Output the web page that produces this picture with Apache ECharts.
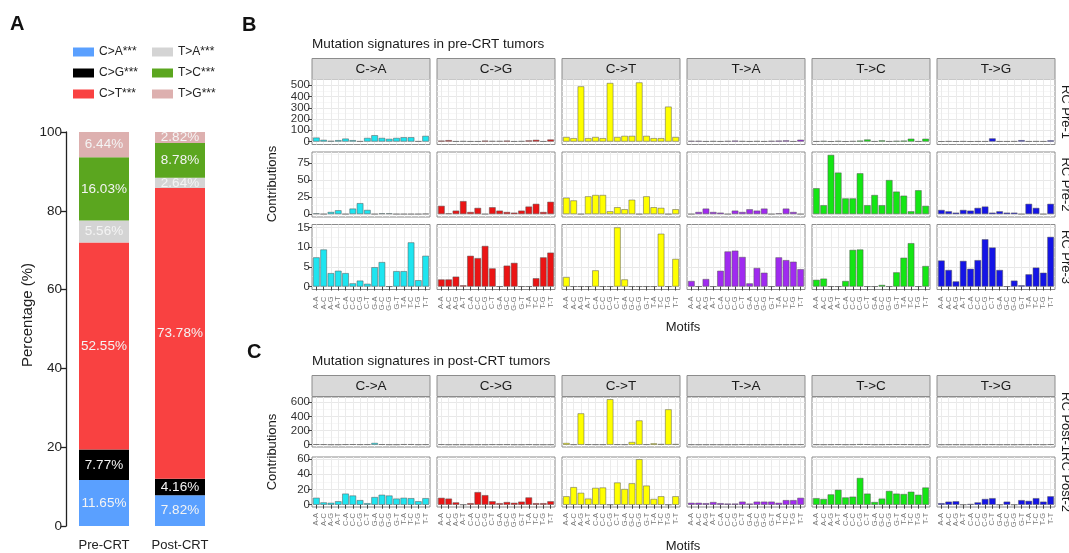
<!DOCTYPE html>
<html><head><meta charset="utf-8">
<script src="https://cdn.jsdelivr.net/npm/echarts@6/dist/echarts.min.js"></script>
<style>html,body{margin:0;padding:0;background:#fff}#c{width:1069px;height:553px}</style>
</head><body><div id="c"></div><script>
// ---------- Panel A data ----------
const groups = ['Pre-CRT', 'Post-CRT'];
const subTypes = ['C>A***', 'C>G***', 'C>T***', 'T>A***', 'T>C***', 'T>G***'];
const pctPre  = [11.65, 7.77, 52.55, 5.56, 16.03, 6.44];
const pctPost = [7.82, 4.16, 73.78, 2.64, 8.78, 2.82];
const pctTicks = [0, 20, 40, 60, 80, 100];
const typeColors = ['#5AA0FF', '#000000', '#F94141', '#D4D4D4', '#5BA61F', '#DDB0AF'];

// ---------- Panels B & C data ----------
const facetNames = ['C->A', 'C->G', 'C->T', 'T->A', 'T->C', 'T->G'];
const facetColors = ['#1EE5F0', '#EB1414', '#FFFF00', '#A02AF0', '#14E614', '#1414E6'];
const motifs = ['A-A','A-C','A-G','A-T','C-A','C-C','C-G','C-T','G-A','G-C','G-G','G-T','T-A','T-C','T-G','T-T'];
const motifPos = [1,2,3,4,5,6,7,8,9,10,11,12,13,14,15,16];

// 96 contributions per sample: C->A, C->G, C->T, T->A, T->C, T->G (16 each)
const rcPre1 = [
  35,15,6,12,26,12,3,32,56,32,24,32,38,38,3,50,
  8,12,2,4,2,2,8,5,5,8,2,4,10,15,2,18,
  40,30,490,30,40,30,520,40,50,50,525,50,30,30,310,40,
  6,6,2,4,2,5,8,4,2,4,2,6,8,10,2,16,
  2,5,1,5,1,4,8,18,2,10,2,6,8,25,2,25,
  1,3,1,3,1,2,2,28,2,2,3,12,2,3,2,10
];
const rcPre2 = [
  1,0,3,5.5,0,8,16,6,0,1,1,0,0,0,0,0.5,
  12,1,5,19,3,9,0,10,5,3,2,5,11,15,3,18,
  24,20,0,26,28,28,4,10,7,21,0,26,10,9,0,7,
  0,3,8,3,2,0,5,3,7,5,8,0,1,8,3,0,
  38,13,87,61,23,23,60,13,28,13,50,33,27,4,35,12,
  6,4,2,6,5,9,11,2,4,2,2,0,15,9,0,15
];
const rcPre3 = [
  7.4,9.4,3.4,4.0,3.4,0.8,1.5,0.7,4.9,6.2,0,3.9,3.9,11.2,1.6,7.8,
  1.8,1.8,2.5,0.3,7.8,7.2,10.3,4.6,0,5.3,6.0,0,0,2.1,7.4,8.6,
  2.4,0,0,0,4.1,0,0,15,1.8,0,0,0,0,13.4,0,7.0,
  1.4,0,1.9,0,4.0,8.9,9.1,7.5,0.8,4.7,3.5,0,7.4,6.7,6.3,4.4,
  1.7,2.0,0,0,1.4,9.3,9.4,0,0,0.4,0,3.6,7.3,11,0,5.2,
  6.6,4.2,1.3,6.5,4.5,6.7,12,9.9,4.2,0,1.5,0.3,3.1,4.8,3.5,12.6
];
const rcPost1 = [
  6,5,1,1,5,6,4,5,25,6,2,2,7,7,2,4,
  5,1,1,2,1,2,1,4,3,4,1,1,4,1,1,1,
  24,3,443,5,3,3,643,5,3,38,343,5,19,10,500,10,
  2,1,1,2,1,1,1,5,1,2,1,2,3,2,3,4,
  3,2,3,5,2,3,8,6,2,3,5,6,5,4,2,3,
  1,2,2,1,1,2,3,4,1,2,1,3,2,4,2,5
];
const rcPost2 = [
  9,3,2.5,4.5,14.5,12,6,2,10,13,12,8,9,8.5,4.5,8.5,
  9,8,3,0,2,16.5,12.5,4.5,2,3.5,2.5,4,9.5,2,2,4.5,
  11,23,15.5,8,22,22.5,0,29,20.5,28,59.5,25,7.5,11,0,11,
  2.5,2.5,2,3.5,2,1.5,1.5,4,1.5,4,4,4,2.5,6,6,9,
  8.5,7.5,13.5,19.5,9.5,10.5,35,14.5,3.5,8,18,14.5,14,17,13,22.5,
  2,4,4.5,0,1,3,7.5,8.5,0,4,0,6,5,8.5,4,11
];
const ticksPre1 = [0,100,200,300,400,500];
const ticksPre2 = [0,25,50,75];
const ticksPre3 = [0,5,10,15];
const ticksPost1 = [0,200,400,600];
const ticksPost2 = [0,20,40,60];
const preRowNames = ['RC Pre-1', 'RC Pre-2', 'RC Pre-3'];
const postRowNames = ['RC Post-1', 'RC Post-2'];

// ---------- layout ----------
const FF = '"Liberation Sans", Arial, sans-serif';
const colLeft = [312, 437, 562, 687, 812, 937];
const PW = 118;
const blocks = [
  {samples: [rcPre1, rcPre2, rcPre3], names: preRowNames, ticks: [ticksPre1, ticksPre2, ticksPre3],
   tops: [79.5, 152, 224.5], h: 65, stripTop: 58.5, title: 'Mutation signatures in pre-CRT tumors',
   titleY: 44, contribY: 184, motifsY: 327, labelMargin: 7},
  {samples: [rcPost1, rcPost2], names: postRowNames, ticks: [ticksPost1, ticksPost2],
   tops: [397, 457], h: 50, stripTop: 375.5, title: 'Mutation signatures in post-CRT tumors',
   titleY: 361, contribY: 452, motifsY: 546, labelMargin: 6}
];

const grids = [], xAxes = [], yAxes = [], series = [], graphics = [];
function txt(x, y, text, o) {
  o = o || {};
  return {type: 'text', x: x, y: y, rotation: o.rot || 0, silent: true, z: 10,
    style: {text: text, fill: o.color || '#1a1a1a', fontSize: o.size || 12, fontWeight: o.weight || 'normal',
      fontFamily: FF, align: o.align || 'center', verticalAlign: o.va || 'middle'}};
}
const barW = 0.9 * PW / 16.2;
const motifOdd = motifPos.filter(function (v, i) { return i % 2 === 0; });
const motifEven = motifPos.filter(function (v, i) { return i % 2 === 1; });
const motifFmt = function (v) { return motifs[Math.round(v) - 1]; };

blocks.forEach(function (b) {
  graphics.push(txt(312, b.titleY, b.title, {align: 'left', size: 13.5}));
  graphics.push(txt(272, b.contribY, 'Contributions', {rot: Math.PI / 2, size: 13}));
  graphics.push(txt(683, b.motifsY, 'Motifs', {size: 13}));
  for (let c = 0; c < 6; c++) {
    graphics.push({type: 'rect', silent: true, shape: {x: colLeft[c], y: b.stripTop, width: PW, height: 21},
      style: {fill: '#D9D9D9', stroke: '#8c8c8c', lineWidth: 1}});
    graphics.push(txt(colLeft[c] + PW / 2, b.stripTop + 11, facetNames[c], {size: 13.5}));
  }
  b.samples.forEach(function (s, r) {
    const ticks = b.ticks[r];
    const tickA = ticks.filter(function (v, i) { return i % 2 === 0; });
    const tickB = ticks.filter(function (v, i) { return i % 2 === 1; });
    const M = Math.max.apply(null, s);
    const yMin = -0.05 * M, yMax = 1.05 * M;
    const step = ticks[1] - ticks[0];
    const minor = [];
    for (let v = ticks[0] + step / 2; v <= yMax; v += step) minor.push(v);
    const isBottom = r === b.samples.length - 1;
    graphics.push(txt(1066, b.tops[r] + b.h / 2, b.names[r], {rot: -Math.PI / 2, size: 13}));
    for (let c = 0; c < 6; c++) {
      const gi = grids.length;
      grids.push({left: colLeft[c], top: b.tops[r], width: PW, height: b.h, show: true,
        backgroundColor: '#fff', borderColor: '#8c8c8c', borderWidth: 1});
      const xi = xAxes.length;
      const xLab = {show: isBottom, rotate: 90, fontSize: 7.5, color: '#777', margin: b.labelMargin,
        fontFamily: FF, showMinLabel: true, showMaxLabel: true, formatter: motifFmt};
      xAxes.push({type: 'value', gridIndex: gi, min: 0.4, max: 16.6, position: 'bottom',
        axisLine: {show: false},
        axisTick: {show: isBottom, customValues: motifPos, length: 4, lineStyle: {color: '#444', width: 1}},
        axisLabel: Object.assign({customValues: motifOdd}, xLab),
        splitLine: {show: true, lineStyle: {color: '#ebebeb', width: 1}}});
      xAxes.push({type: 'value', gridIndex: gi, min: 0.4, max: 16.6, position: 'bottom',
        axisLine: {show: false},
        axisTick: {show: false, customValues: motifEven},
        axisLabel: Object.assign({customValues: motifEven}, xLab),
        splitLine: {show: false}});
      const yi = yAxes.length;
      const yLab = {show: c === 0, fontSize: 11.5, color: '#333', margin: 2, fontFamily: FF,
        showMinLabel: true, showMaxLabel: true};
      yAxes.push({type: 'value', gridIndex: gi, min: yMin, max: yMax, position: 'left',
        axisLine: {show: false},
        axisTick: {show: c === 0, customValues: ticks, length: 4, lineStyle: {color: '#444', width: 1}},
        axisLabel: Object.assign({customValues: tickA}, yLab),
        splitLine: {show: true, lineStyle: {color: '#e8e8e8', width: 1}}});
      yAxes.push({type: 'value', gridIndex: gi, min: yMin, max: yMax, position: 'left',
        axisLine: {show: false},
        axisTick: {show: false, customValues: minor},
        axisLabel: Object.assign({customValues: tickB}, yLab),
        splitLine: {show: true, lineStyle: {color: '#f2f2f2', width: 0.6}}});
      series.push({type: 'bar', xAxisIndex: xi, yAxisIndex: yi, silent: true, barWidth: barW,
        data: s.slice(c * 16, c * 16 + 16).map(function (v, i) { return [motifPos[i], v]; }),
        itemStyle: {color: facetColors[c], borderColor: '#555', borderWidth: 0.5}});
    }
  });
});

// ---------- Panel A chart ----------
const giA = grids.length;
grids.push({left: 66, top: 132, width: 152, height: 394});
const xiA = xAxes.length;
xAxes.push({type: 'category', gridIndex: giA, data: groups,
  axisLine: {show: false}, axisTick: {show: false},
  axisLabel: {fontSize: 13, color: '#222', margin: 13, fontFamily: FF}});
const yiA = yAxes.length;
yAxes.push({type: 'value', gridIndex: giA, min: 0, max: 100, interval: 20,
  axisLine: {show: true, lineStyle: {color: '#222', width: 1.3}},
  axisTick: {show: true, length: 5, lineStyle: {color: '#222', width: 1.3}},
  axisLabel: {fontSize: 13.5, color: '#222', margin: 4, fontFamily: FF, customValues: pctTicks},
  splitLine: {show: false}});
subTypes.forEach(function (t, k) {
  series.push({name: t, type: 'bar', stack: 'pct', xAxisIndex: xiA, yAxisIndex: yiA, barWidth: 50,
    data: [pctPre[k], pctPost[k]], itemStyle: {color: typeColors[k]},
    label: {show: true, position: 'inside', color: '#f4f4f4', fontSize: 13.5, fontFamily: FF,
      formatter: function (p) { return p.value.toFixed(2) + '%'; }}});
});
graphics.push(txt(10, 24, 'A', {align: 'left', size: 20, weight: 'bold', color: '#111'}));
graphics.push(txt(242, 25, 'B', {align: 'left', size: 20, weight: 'bold', color: '#111'}));
graphics.push(txt(247, 352, 'C', {align: 'left', size: 20, weight: 'bold', color: '#111'}));
graphics.push(txt(28, 315, 'Percentage (%)', {rot: Math.PI / 2, size: 15, color: '#222'}));

const legendBase = {orient: 'vertical', icon: 'rect', itemWidth: 21, itemHeight: 9, itemGap: 9,
  textStyle: {fontSize: 12, color: '#222', fontFamily: FF}, selectedMode: false};
const option = {
  animation: false,
  textStyle: {fontFamily: FF},
  grid: grids, xAxis: xAxes, yAxis: yAxes, series: series,
  legend: [
    Object.assign({}, legendBase, {data: subTypes.slice(0, 3), left: 68, top: 41}),
    Object.assign({}, legendBase, {data: subTypes.slice(3), left: 147, top: 41})
  ],
  graphic: graphics
};
const chart = echarts.init(document.getElementById('c'), null, {renderer: 'canvas'});
chart.setOption(option);
</script></body></html>
